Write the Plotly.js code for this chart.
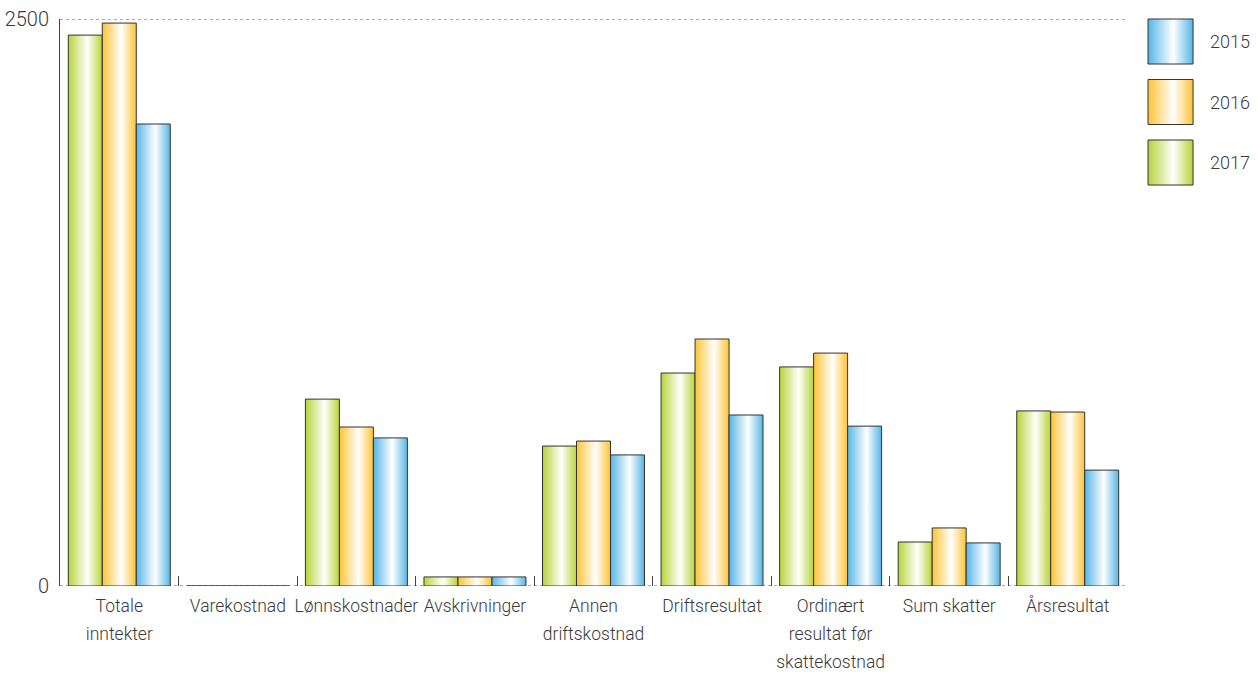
<!DOCTYPE html>
<html>
<head>
<meta charset="utf-8">
<script src="https://cdn.plot.ly/plotly-3.0.1.min.js"></script>
<style>
html,body{margin:0;padding:0;background:#fff;}
#chart{width:1257px;height:673px;}
</style>
</head>
<body>
<div id="chart"></div>
<script>
const categories = [
  "Totale<br>inntekter",
  "Varekostnad",
  "Lønnskostnader",
  "Avskrivninger",
  "Annen<br>driftskostnad",
  "Driftsresultat",
  "Ordinært<br>resultat før<br>skattekostnad",
  "Sum skatter",
  "Årsresultat"
];
const values2017 = [2429, 0, 824, 40, 617, 939, 966, 194, 772];
const values2016 = [2482, 0, 701, 40, 639, 1089, 1027, 256, 767];
const values2015 = [2037, 0, 653, 40, 578, 754, 705, 190, 511];
const yTicks = [0, 2500];
const yearLabels = ["2015", "2016", "2017"];

const colors = {
  "2017": "#b8d339",
  "2016": "#fdc337",
  "2015": "#56b5e7"
};

const fontFam = "Roboto, 'Liberation Sans', Arial, sans-serif";
const txtColor = "#3a3a3a";
const fontWeight = 300;

function barTrace(name, vals) {
  return {
    type: "bar",
    name: name,
    x: categories,
    y: vals,
    marker: {color: colors[name], line: {color: "#333333", width: 1}},
    hoverinfo: "x+y+name"
  };
}

const data = [
  barTrace("2017", values2017),
  barTrace("2016", values2016),
  barTrace("2015", values2015)
];

// custom legend (large gradient swatches)
const legendShapes = [];
const legendAnnots = [];
yearLabels.forEach(function (yr, i) {
  const top = 1.0 - i * 0.1067;
  legendShapes.push({
    type: "rect", xref: "paper", yref: "paper",
    x0: 1.0197, x1: 1.0619, y0: top - 0.0794, y1: top,
    line: {color: "#333333", width: 1},
    fillcolor: colors[yr], layer: "above"
  });
  legendAnnots.push({
    xref: "paper", yref: "paper",
    x: 1.0755, y: top - 0.0397,
    xanchor: "left", yanchor: "middle",
    text: yr, showarrow: false,
    font: {family: fontFam, size: 18, color: txtColor, weight: fontWeight}
  });
});

const layout = {
  width: 1257, height: 673,
  margin: {l: 60, r: 130, t: 19, b: 87, pad: 0},
  paper_bgcolor: "#ffffff",
  plot_bgcolor: "#ffffff",
  showlegend: false,
  barmode: "group",
  bargap: 0.14,
  bargroupgap: 0,
  font: {family: fontFam, size: 17.5, color: txtColor, weight: fontWeight},
  xaxis: {
    type: "category",
    range: [-0.5, 8.5],
    tickson: "boundaries",
    ticks: "inside",
    ticklen: 10,
    tickcolor: "#444444",
    tickwidth: 1,
    showgrid: false,
    showline: false,
    zeroline: false,
    tickangle: 0,
    ticklabelstandoff: 7,
    tickfont: {family: fontFam, size: 17.5, color: txtColor, weight: fontWeight}
  },
  yaxis: {
    range: [0, 2500],
    tickvals: yTicks,
    ticktext: yTicks.map(String),
    showgrid: false,
    zeroline: false,
    showline: true,
    linecolor: "#444444",
    linewidth: 1,
    ticks: "",
    ticklabelstandoff: 6,
    tickfont: {family: fontFam, size: 20, color: txtColor, weight: fontWeight}
  },
  shapes: [
    {type: "line", xref: "paper", yref: "y", x0: 0, x1: 0.998, y0: 2500, y1: 2500,
     line: {color: "#555555", width: 1, dash: "dot"}, layer: "below"},
    {type: "line", xref: "paper", yref: "y", x0: 0, x1: 0.998, y0: 0, y1: 0,
     line: {color: "#555555", width: 1, dash: "dot"}, layer: "below"}
  ].concat(legendShapes),
  annotations: legendAnnots
};

const gd = document.getElementById("chart");
Plotly.newPlot(gd, data, layout, {displayModeBar: false, staticPlot: true}).then(function () {
  const svg = gd.querySelector("svg.main-svg");
  let defs = svg.querySelector("defs");
  const NS = "http://www.w3.org/2000/svg";
  if (!defs) { defs = document.createElementNS(NS, "defs"); svg.insertBefore(defs, svg.firstChild); }
  function makeGrad(id, col) {
    const g = document.createElementNS(NS, "linearGradient");
    g.setAttribute("id", id);
    g.setAttribute("x1", "0"); g.setAttribute("x2", "1");
    g.setAttribute("y1", "0"); g.setAttribute("y2", "0");
    [[0, col], [0.56, "#ffffff"], [1, col]].forEach(function (s) {
      const st = document.createElementNS(NS, "stop");
      st.setAttribute("offset", s[0]);
      st.setAttribute("stop-color", s[1]);
      g.appendChild(st);
    });
    defs.appendChild(g);
  }
  Object.keys(colors).forEach(function (k) { makeGrad("grad" + k, colors[k]); });

  const traces = gd.querySelectorAll(".barlayer .trace");
  traces.forEach(function (t, i) {
    const name = data[i].name;
    t.querySelectorAll("path").forEach(function (p) {
      p.style.fill = "url(#grad" + name + ")";
    });
  });
  // legend swatches
  gd.querySelectorAll(".shapelayer path").forEach(function (p) {
    const idx = parseInt(p.getAttribute("data-index"), 10);
    if (idx >= 2) {
      const yr = yearLabels[idx - 2];
      p.style.fill = "url(#grad" + yr + ")";
      p.style.fillOpacity = 1;
    }
  });
  // widen line spacing of multi-line x tick labels (~28px), scaling Plotly's own offsets
  const scale = 1.6 / 1.3;
  gd.querySelectorAll(".xtick text tspan.line").forEach(function (ts) {
    const dy = ts.getAttribute("dy");
    if (dy && parseFloat(dy) > 0) {
      ts.setAttribute("dy", (parseFloat(dy) * scale).toFixed(3) + "em");
    }
  });
});
</script>
</body>
</html>
